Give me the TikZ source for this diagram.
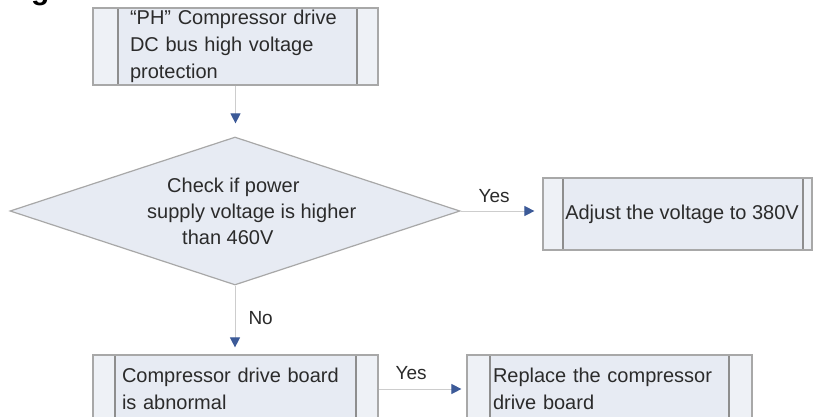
\documentclass[tikz,border=0pt]{standalone}
\usepackage{fontspec}
\setmainfont{Liberation Sans}
\usetikzlibrary{shapes.geometric,arrows.meta}
\definecolor{boxfill}{HTML}{E7EBF3}
\definecolor{stripfill}{HTML}{EEF1F6}
\definecolor{boxline}{HTML}{A8A8A8}
\definecolor{innerline}{HTML}{8E8E8E}
\definecolor{arrblue}{HTML}{3C5A98}
\definecolor{conn}{HTML}{CDCDCD}
\definecolor{txtc}{HTML}{2B2B2B}
\begin{document}
\begin{tikzpicture}[x=1pt,y=-1pt,
  proc/.style 2 args={rectangle, draw=boxline, line width=1.2pt, fill=boxfill,
    inner sep=0pt, text=txtc, font=\fontsize{20}{27}\selectfont,
    path picture={
      \fill[stripfill] (path picture bounding box.north west) rectangle ([xshift=#1]path picture bounding box.south west);
      \fill[stripfill] (path picture bounding box.north east) rectangle ([xshift=-#2]path picture bounding box.south east);
      \draw[innerline, line width=1.5pt] ([xshift=#1]path picture bounding box.north west) -- ([xshift=#1]path picture bounding box.south west);
      \draw[innerline, line width=1.5pt] ([xshift=-#2]path picture bounding box.north east) -- ([xshift=-#2]path picture bounding box.south east);}},
  dia/.style={diamond, draw=boxline, line width=1.2pt, fill=boxfill, inner sep=0pt,
    minimum width=450pt, minimum height=148pt},
  lbl/.style={inner sep=0pt, text=txtc, font=\fontsize{19}{24}\selectfont},
  conn/.style={draw=conn, line width=1pt, -{Triangle[length=10pt,width=10pt,color=arrblue]}}
]
\useasboundingbox (0,0) rectangle (814,416);
\fill[white] (0,0) rectangle (814,416);
\clip (0,0) rectangle (814,416);

\node[font=\bfseries\fontsize{30}{30}\selectfont, anchor=base west, inner sep=0pt] (hd) at (31,-0.5) {g};

\node[proc={25pt}{21pt}, minimum width=285pt, minimum height=77pt, text width=211pt, align=left]
  (top) at (235.5,46.5) {“PH” Compressor drive\\DC bus high voltage\\protection};

\node[dia] (d) at (235,211) {};
\node[lbl, font=\fontsize{20}{26}\selectfont, align=left, anchor=west] (dt) at (147,211)
  {\hspace*{20pt}Check if power\\supply voltage is higher\\\hspace*{35pt}than 460V};

\node[proc={20pt}{9pt}, minimum width=269pt, minimum height=72pt]
  (rb) at (677.5,214) {\hspace*{9pt}Adjust the voltage to 380V};

\node[proc={22pt}{22pt}, minimum width=285pt, minimum height=68pt, text width=227pt, align=left]
  (bl) at (235.5,389) {Compressor drive board\\is abnormal};

\node[proc={23pt}{23pt}, minimum width=285pt, minimum height=68pt, text width=233pt, align=left]
  (br) at (609.5,389) {Replace the compressor\\drive board};

\draw[conn, shorten >=13pt] (top.south) -- (top.south |- d.north);
\draw[conn, shorten >=8pt] (d.east) -- (d.east -| rb.west)
  node[lbl, pos=0.41, above=8pt] (y1) {Yes};
\draw[conn, shorten >=7pt] (d.south) -- (d.south |- bl.north)
  node[lbl, pos=0.47, right=13pt] (n1) {No};
\draw[conn, shorten >=5pt] (bl.east) -- (br.west)
  node[lbl, pos=0.37, above=9pt] (y2) {Yes};
\end{tikzpicture}
\end{document}
